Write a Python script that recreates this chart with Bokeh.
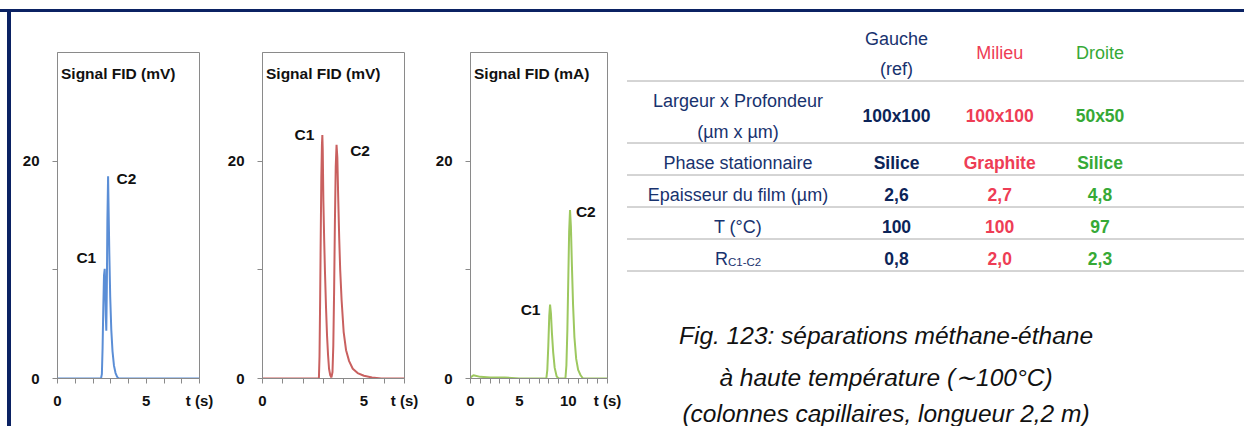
from bokeh.plotting import figure
from bokeh.models import Range1d, FixedTicker, ColumnDataSource, Div, Spacer
from bokeh.layouts import row, column
from bokeh.embed import file_html
from bokeh.resources import INLINE
from bokeh.core.properties import value

# ---------------- data ----------------
# Panel "Gauche" (blue) : Signal FID (mV) vs t (s)
t_gauche = [0, 2.45, 2.5, 2.54, 2.58, 2.62, 2.66, 2.69, 2.72, 2.75, 2.78, 2.81, 2.85,
            2.88, 2.92, 2.97, 3.03, 3.1, 3.18, 3.27, 3.36, 3.45, 8]
s_gauche = [0, 0, 0.4, 2.8, 6.5, 9.5, 10.1, 8.3, 5.8, 4.4, 8.5, 14.5, 18.6,
            15.5, 11.5, 7.5, 4.5, 2.5, 1.2, 0.5, 0.15, 0, 0]
# Panel "Milieu" (red)
t_milieu = [0, 2.78, 2.81, 2.84, 2.87, 2.9, 2.93, 2.95, 2.97, 3.0, 3.04, 3.08, 3.13,
            3.18, 3.23, 3.28, 3.34, 3.4, 3.45, 3.49, 3.53, 3.57, 3.61, 3.65, 3.69,
            3.73, 3.78, 3.83, 3.9, 4.0, 4.12, 4.27, 4.45, 4.69, 5.0, 5.4, 5.85, 7]
s_milieu = [0, 0, 2.0, 7.0, 13.0, 18.5, 21.5, 22.4, 21.0, 16.4, 12.8, 9.8, 6.6,
            4.0, 2.2, 0.9, 0.3, 0.1, 0.6, 3.0, 8.0, 14.5, 19.5, 21.5, 20.3,
            16.8, 13.0, 10.0, 7.2, 4.3, 2.6, 1.6, 0.9, 0.5, 0.25, 0.1, 0, 0]
# Panel "Droite" (green) : Signal FID (mA)
t_droite = [0, 0.3, 1.0, 2.0, 3.5, 5.0, 7.75, 7.85, 7.95, 8.05, 8.13, 8.22, 8.32, 8.45,
            8.6, 8.8, 9.0, 9.7, 9.8, 9.9, 10.0, 10.08, 10.17, 10.26, 10.36, 10.48,
            10.62, 10.8, 11.0, 11.25, 11.5, 14]
s_droite = [0.1, 0.3, 0.15, 0.1, 0.1, 0, 0, 0.8, 3.0, 5.8, 6.8, 6.0, 4.2, 2.4,
            1.0, 0.2, 0, 0, 1.2, 4.5, 9.5, 13.5, 15.5, 14.0, 10.5, 6.8,
            3.8, 1.8, 0.8, 0.3, 0, 0]

peak_names = ["C1", "C2"]
peaks_t_gauche = [2.66, 2.85]
peaks_s_gauche = [10.1, 18.6]
peaks_t_milieu = [2.95, 3.65]
peaks_s_milieu = [22.4, 21.5]
peaks_t_droite = [8.13, 10.17]
peaks_s_droite = [6.8, 15.5]

titles = ["Signal FID (mV)", "Signal FID (mV)", "Signal FID (mA)"]
y_ticks = [0, 20]
y_minor = [10]
x_ticks_gauche = [0, 5, 8]
x_ticks_milieu = [0, 5, 7]
x_ticks_droite = [0, 5, 10, 14]
x_axis_label = "t (s)"

col_headers = [["Gauche", "(ref)"], ["Milieu"], ["Droite"]]
row_labels = [["Largeur x Profondeur", "(µm x µm)"], ["Phase stationnaire"],
              ["Epaisseur du film (µm)"], ["T (°C)"], ["R"]]
r_subscript = "C1-C2"
vals_gauche = ["100x100", "Silice", "2,6", "100", "0,8"]
vals_milieu = ["100x100", "Graphite", "2,7", "100", "2,0"]
vals_droite = ["50x50", "Silice", "4,8", "97", "2,3"]
caption = ["Fig. 123: séparations méthane-éthane",
           "à haute température (∼100°C)",
           "(colonnes capillaires, longueur 2,2 m)"]

# ---------------- style ----------------
NAVY = "#0b2263"
NAVY_TXT = "#18326e"
RED_TXT = "#ee3d55"
GREEN_TXT = "#36a936"
FONT = "Liberation Sans"
AX = "#8a8a8a"
H = 414


def chrom(width, left, right, xmax, ticks, t, s, color, title, pk_t, pk_s, offs):
    p = figure(width=width, height=H, x_range=Range1d(0, xmax), y_range=Range1d(0, 30),
               min_border_left=left, min_border_right=right, min_border_top=40,
               min_border_bottom=48, output_backend="svg", toolbar_location=None, tools="")
    p.grid.visible = False
    p.outline_line_color = AX
    minor = [v for v in range(0, int(xmax) + 1) if v not in ticks]
    p.xaxis.ticker = FixedTicker(ticks=ticks, minor_ticks=minor)
    p.xaxis.major_label_overrides = {ticks[-1]: x_axis_label}
    p.yaxis.ticker = FixedTicker(ticks=y_ticks, minor_ticks=y_minor)
    for ax in (p.xaxis, p.yaxis):
        ax.axis_line_color = AX
        ax.major_tick_line_color = AX
        ax.minor_tick_line_color = AX
        ax.major_tick_in = 0
        ax.major_tick_out = 5
        ax.minor_tick_in = 0
        ax.minor_tick_out = 5
        ax.major_label_text_font = FONT
        ax.major_label_text_font_style = "bold"
        ax.major_label_text_color = "#111111"
        ax.major_label_text_font_size = "15px"
    p.xaxis.major_label_standoff = 8
    p.yaxis.major_label_standoff = 13

    p.line(t, s, line_color=color, line_width=2)
    src = ColumnDataSource(dict(x=pk_t, y=pk_s, text=peak_names,
                                dx=[o[0] for o in offs], dy=[o[1] for o in offs]))
    p.text(x="x", y="y", text="text", x_offset="dx", y_offset="dy", source=src,
           text_align="center", text_baseline="alphabetic",
           text_font=value(FONT), text_font_style="bold",
           text_font_size="15.5px", text_color="#111111")
    p.text(x=[p.x_range.start], y=[p.y_range.end], text=[title], x_offset=3.5, y_offset=20.7,
           text_align="left", text_baseline="alphabetic", text_font=value(FONT),
           text_font_style="bold", text_font_size="15.5px", text_color="#111111")
    return p


f1 = chrom(205, 46, 17, 8, x_ticks_gauche, t_gauche, s_gauche, "#5b8ed6", titles[0],
           peaks_t_gauche, peaks_s_gauche, [(-18.4, -11.5), (18.3, 2.5)])
f2 = chrom(204, 46, 16, 7, x_ticks_milieu, t_milieu, s_milieu, "#c9605f", titles[1],
           peaks_t_milieu, peaks_s_milieu, [(-18, -0.5), (23.5, 5.7)])
f3 = chrom(202, 50, 15, 14, x_ticks_droite, t_droite, s_droite, "#9dc85f", titles[2],
           peaks_t_droite, peaks_s_droite, [(-19.5, 5.3), (15.8, 1.5)])

# ---------------- table ----------------
tb = figure(width=622, height=H, x_range=Range1d(622, 1244), y_range=Range1d(426, 12),
            min_border=0, x_axis_location=None, y_axis_location=None,
            output_backend="svg", toolbar_location=None, tools="")
tb.grid.visible = False
tb.outline_line_color = None
try:
    tb.frame_align = False
except Exception:
    pass

col_x = [896, 999.2, 1099.5]
label_x = 737.5
header_base = [[38, 68.3], [52.3], [52.3]]
label_base = [[100.7, 131], [162.7], [194.3], [226], [258.3]]
value_base = [115, 162.7, 194.3, 226, 258.3]
rule_y = [80.5, 142.5, 174.5, 206.5, 238.5, 270.5]
col_colors = [NAVY_TXT, RED_TXT, GREEN_TXT]
val_colors = ["#0c2458", RED_TXT, GREEN_TXT]

tb.segment(x0=[627] * len(rule_y), y0=rule_y, x1=[1244] * len(rule_y), y1=rule_y,
           line_color="#555555", line_width=1, line_dash="1 1")

hx, hy, ht, hc = [], [], [], []
for i, lines in enumerate(col_headers):
    for ln, b in zip(lines, header_base[i]):
        hx.append(col_x[i]); hy.append(b); ht.append(ln); hc.append(col_colors[i])
for lines, bases in zip(row_labels[:-1], label_base[:-1]):
    for ln, b in zip(lines, bases):
        hx.append(label_x); hy.append(b); ht.append(ln); hc.append(NAVY_TXT)
tb.text(x=hx, y=hy, text=ht, text_color=hc, text_align="center", text_baseline="alphabetic",
        text_font=value(FONT), text_font_size="18px")
# R with subscript C1-C2
tb.text(x=[727.5], y=[label_base[4][0]], text=row_labels[4], text_color=NAVY_TXT,
        text_align="right", text_baseline="alphabetic", text_font=value(FONT),
        text_font_size="18px")
tb.text(x=[727.5], y=[label_base[4][0] + 3], text=[r_subscript], text_color=NAVY_TXT,
        text_align="left", text_baseline="alphabetic", text_font=value(FONT),
        text_font_size="11.5px")

vx, vy, vt, vc = [], [], [], []
for i, vals in enumerate([vals_gauche, vals_milieu, vals_droite]):
    for v, b in zip(vals, value_base):
        vx.append(col_x[i]); vy.append(b); vt.append(v); vc.append(val_colors[i])
tb.text(x=vx, y=vy, text=vt, text_color=vc, text_align="center", text_baseline="alphabetic",
        text_font=value(FONT), text_font_style="bold", text_font_size="17.5px")

cap_base = [335, 376.7, 412.7]
tb.text(x=[885.5] * 3, y=cap_base, text=caption, text_color="#111111", text_align="center",
        text_baseline="alphabetic", text_font=value(FONT),
        text_font_style="italic", text_font_size="24.5px")

# ---------------- frame bars ----------------
top_bar = Div(text="", width=1244, height=3, margin=(9, 0, 0, 0),
              styles={"background-color": NAVY})
left_gap = Spacer(width=7, height=H)
left_bar = Div(text="", width=4, height=H, margin=0, styles={"background-color": NAVY})

layout = column(top_bar, row(left_gap, left_bar, f1, f2, f3, tb, spacing=0), spacing=0)

with open("out.html", "w") as fh:
    fh.write(file_html(layout, INLINE))
